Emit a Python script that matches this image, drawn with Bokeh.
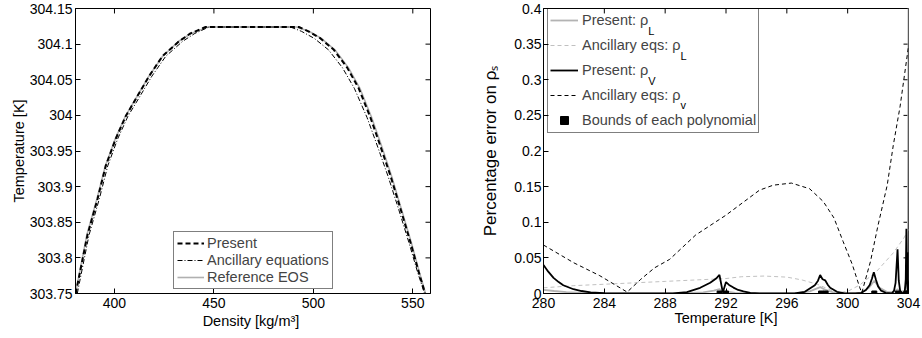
import math
from bokeh.plotting import figure
from bokeh.models import Legend, LegendItem, FixedTicker, Range1d, Label
from bokeh.layouts import row
from bokeh.embed import file_html
from bokeh.resources import INLINE

# ---------------- Left panel data (density vs temperature) ----------------
rho_present = [380.5, 386.4, 391.5, 395.6, 400.6, 405.7, 410.7, 417.4, 424.1, 432.5, 438.2, 445.8,
               492.7, 497.5, 503.6, 510.3, 517.0, 522.8, 528.7, 533.7, 538.8, 543.8, 548.8, 553.0, 556.2]
T_present = [303.75, 303.832, 303.883, 303.929, 303.967, 303.999, 304.023, 304.055, 304.083, 304.104,
             304.115, 304.124, 304.124, 304.118, 304.108, 304.092, 304.067, 304.038, 303.997, 303.957,
             303.915, 303.869, 303.822, 303.78, 303.75]
rho_ancillary = [381.3, 387.2, 392.4, 396.6, 401.6, 406.8, 412.0, 418.8, 425.8, 434.3, 440.4, 447.5,
                 488.5, 494.0, 500.5, 507.6, 514.6, 520.6, 527.0, 532.2, 537.5, 542.8, 548.0, 552.4, 555.9]
T_ancillary = [303.75, 303.832, 303.883, 303.929, 303.967, 303.999, 304.023, 304.055, 304.083, 304.104,
               304.115, 304.124, 304.124, 304.118, 304.108, 304.092, 304.067, 304.038, 303.997, 303.957,
               303.915, 303.869, 303.822, 303.78, 303.75]
rho_reference = [380.4, 386.1, 391.2, 395.4, 400.4, 405.5, 410.6, 417.3, 424.2, 432.3, 438.6, 447.0,
                 491.5, 497.8, 504.0, 510.8, 517.6, 523.4, 529.3, 534.3, 539.3, 544.2, 549.2, 553.3, 556.4]
T_reference = [303.75, 303.832, 303.883, 303.929, 303.967, 303.999, 304.023, 304.055, 304.083, 304.104,
               304.115, 304.124, 304.124, 304.118, 304.108, 304.092, 304.067, 304.038, 303.997, 303.957,
               303.915, 303.869, 303.822, 303.78, 303.75]
left_xticks = [400, 450, 500, 550]
left_yticks = [303.75, 303.8, 303.85, 303.9, 303.95, 304.0, 304.05, 304.1, 304.15]
left_ytick_labels = ["303.75", "303.8", "303.85", "303.9", "303.95", "304", "304.05", "304.1", "304.15"]

# ---------------- Right panel data (percentage error vs temperature) ----------------
presL_T = [280, 280.7, 281.5, 282.5, 283.5, 285, 289, 290.5, 291.2, 291.58, 291.8, 292.0, 292.6, 293.5,
           296.5, 297.5, 298.2, 298.55, 299.0, 299.8, 300.9, 301.4, 301.75, 302.1, 302.6, 303.0, 303.28,
           303.5, 303.75, 303.86, 303.95, 304.0]
presL_err = [0.005, 0.0035, 0.002, 0.001, 0.0003, 0, 0, 0.0015, 0.004, 0.006, 0.001, 0.003, 0.001, 0,
             0, 0.003, 0.009, 0.005, 0.002, 0, 0.001, 0.008, 0.018, 0.008, 0.002, 0.002, 0.006,
             0.002, 0.004, 0.012, 0.02, 0.42]
ancL_T = [280, 282, 284, 286, 288, 290, 292, 293, 294.5, 296, 297, 298, 299.3, 300, 300.8, 301.9, 303,
          303.7, 304]
ancL_err = [0.008, 0.011, 0.013, 0.015, 0.017, 0.019, 0.021, 0.0235, 0.0245, 0.023, 0.019, 0.013, 0.001,
            0.003, 0.012, 0.031, 0.057, 0.078, 0.09]
presV_T = [280, 280.3, 280.66, 281.0, 281.3, 281.97, 282.5, 283.1, 284.0, 285.0, 288.5, 289.43, 290.3,
           290.96, 291.35, 291.57, 291.79, 292.0, 292.2, 292.49, 292.8, 293.15, 293.6, 294.2, 296.5,
           297.18, 297.84, 298.05, 298.19, 298.35, 298.52, 298.7, 298.85, 299.3, 299.8, 300.5, 300.9,
           301.2, 301.45, 301.6, 301.72, 301.85, 302.0, 302.2, 302.5, 302.9, 303.05, 303.15, 303.28,
           303.36, 303.45, 303.6, 303.75, 303.82, 303.86, 303.9, 303.95, 303.98, 304.0]
presV_err = [0.040, 0.031, 0.022, 0.016, 0.0116, 0.006, 0.0035, 0.0015, 0.0004, 0, 0, 0.002, 0.008,
             0.015, 0.021, 0.026, 0.0015, 0.016, 0.012, 0.0083, 0.005, 0.003, 0.001, 0, 0,
             0.0024, 0.0116, 0.018, 0.026, 0.02, 0.0185, 0.012, 0.008, 0.0024, 0.0003, 0, 0.001,
             0.005, 0.012, 0.021, 0.03, 0.02, 0.01, 0.004, 0.001, 0, 0.004, 0.015, 0.062,
             0.018, 0.004, 0, 0.002, 0.02, 0.091, 0.02, 0.002, 0.02, 0.058]
ancV_T = [280, 282.0, 283.7, 285.5, 286.4, 287.3, 288.3, 290.0, 292.0, 294.2, 295.1, 296.3, 297.5, 298.4,
          299.1, 299.7, 300.3, 300.8, 300.93, 301.5, 302.0, 302.6, 303.0, 303.45, 304.0]
ancV_err = [0.068, 0.043, 0.025, 0.002, 0.020, 0.036, 0.048, 0.082, 0.110, 0.145, 0.152, 0.155, 0.147,
            0.129, 0.106, 0.073, 0.041, 0.008, 0.001, 0.045, 0.096, 0.152, 0.208, 0.263, 0.347]
bounds_T = [291.58, 292.0, 298.25, 298.55, 301.75, 303.3, 303.86, 304.0]
bounds_err = [0, 0, 0, 0, 0, 0, 0, 0]
right_xticks = [280, 284, 288, 292, 296, 300, 304]
right_yticks = [0, 0.05, 0.1, 0.15, 0.2, 0.25, 0.3, 0.35, 0.4]
right_ytick_labels = ["0", "0.05", "0.1", "0.15", "0.2", "0.25", "0.3", "0.35", "0.4"]

FONT = "Liberation Sans"
TICK_FS = "14px"
H = 338
TICK_LEN = 5

# approximate Arial/Liberation Sans advance widths (per 1000 em) for placing subscripts
CW = {' ': 278, ':': 278, 'A': 667, 'B': 667, 'P': 667, 'S': 667, 'a': 556, 'c': 500, 'd': 556,
      'e': 556, 'f': 278, 'g': 556, 'h': 556, 'i': 222, 'l': 222, 'm': 833, 'n': 556, 'o': 556,
      'p': 556, 'q': 556, 'r': 333, 's': 500, 't': 278, 'u': 556, 'y': 500, 'ρ': 575}


def tw(s, size):
    return sum(CW.get(c, 556) for c in s) * size / 1000.0


class Panel:
    def __init__(self, width, bl, br, bt, bb, xr, yr):
        self.xr, self.yr = xr, yr
        self.fw = width - bl - br
        self.fh = H - bt - bb
        p = figure(width=width, height=H, x_range=Range1d(*xr), y_range=Range1d(*yr),
                   output_backend="svg", toolbar_location=None,
                   min_border_left=bl, min_border_right=br, min_border_top=bt, min_border_bottom=bb)
        p.grid.visible = False
        p.outline_line_color = "black"
        p.outline_line_width = 1
        p.background_fill_color = "white"
        p.border_fill_color = "white"
        self.p = p

    # frame pixel offsets (from bottom-left of the frame) -> data coordinates
    def dx(self, px):
        return self.xr[0] + px / self.fw * (self.xr[1] - self.xr[0])

    def dy(self, py):
        return self.yr[0] + py / self.fh * (self.yr[1] - self.yr[0])

    def style(self, xt, yt, ylabels, xlabel, ylabel, x_std, xl_std, y_std, yl_std, yl_fs="14.5px"):
        p = self.p
        xa, ya = p.xaxis[0], p.yaxis[0]
        xa.ticker = FixedTicker(ticks=xt)
        ya.ticker = FixedTicker(ticks=yt)
        ya.major_label_overrides = {v: s for v, s in zip(yt, ylabels)}
        for ax in (xa, ya):
            ax.major_tick_in = TICK_LEN
            ax.major_tick_out = 0
            ax.minor_tick_line_color = None
            ax.axis_line_color = "black"
            ax.major_tick_line_color = "black"
            ax.major_label_text_font = FONT
            ax.major_label_text_font_size = TICK_FS
            ax.major_label_text_color = "black"
            ax.axis_label_text_font = FONT
            ax.axis_label_text_font_style = "normal"
            ax.axis_label_text_font_size = "14.5px"
            ax.axis_label_text_color = "black"
        ya.axis_label_text_font_size = yl_fs
        xa.major_label_standoff = x_std
        xa.axis_label_standoff = xl_std
        ya.major_label_standoff = y_std
        ya.axis_label_standoff = yl_std
        xa.axis_label = xlabel
        ya.axis_label = ylabel
        # mirrored inward ticks on the top and right sides of the box
        ytop = self.yr[1]
        ylen = self.dy(TICK_LEN) - self.yr[0]
        p.segment(x0=xt, y0=[ytop] * len(xt), x1=xt, y1=[ytop - ylen] * len(xt),
                  line_color="black", line_width=1)
        xright = self.xr[1]
        xlen = self.dx(TICK_LEN) - self.xr[0]
        p.segment(x0=[xright] * len(yt), y0=yt, x1=[xright - xlen] * len(yt), y1=yt,
                  line_color="black", line_width=1)


# ---------------- Left figure ----------------
L = Panel(460, 75, 30, 7, 45, (380.4, 558.9), (303.75, 304.15))
L.style(left_xticks, left_yticks, left_ytick_labels, "Density  [kg/m³]", "Temperature [K]", 4, 2, 3, 0)
p1 = L.p

r_ref = p1.line(rho_reference, T_reference, line_color="#b0b0b0", line_width=1.6)
r_anc = p1.line(rho_ancillary, T_ancillary, line_color="black", line_width=1, line_dash="5 2 1 2")
r_pre = p1.line(rho_present, T_present, line_color="black", line_width=2, line_dash="5 3")

leg1 = Legend(items=[LegendItem(label="Present", renderers=[r_pre]),
                     LegendItem(label="Ancillary equations", renderers=[r_anc]),
                     LegendItem(label="Reference EOS", renderers=[r_ref])],
              location=(98, 4), padding=3, margin=0, spacing=1, glyph_width=27, glyph_height=16,
              label_height=16, label_standoff=3, label_text_font=FONT, label_text_font_size="14.5px",
              border_line_color="black", border_line_width=1.2, background_fill_color="white",
              background_fill_alpha=1)
p1.add_layout(leg1)

# ---------------- Right figure ----------------
YL_FS = 17
ylabel_right = "Percentage error on ρₛ"
R = Panel(461, 83, 13, 8, 42, (280, 304), (0, 0.4))
R.style(right_xticks, right_yticks, right_ytick_labels, "Temperature [K]", ylabel_right, 4, -1, 2, 11,
        yl_fs=f"{YL_FS}px")
p2 = R.p

r_pL = p2.line(presL_T, presL_err, line_color="#b3b3b3", line_width=1.8)
r_aL = p2.line(ancL_T, ancL_err, line_color="#c0c0c0", line_width=1, line_dash="4 3")
r_aV = p2.line(ancV_T, ancV_err, line_color="black", line_width=1, line_dash="4 3")
r_pV = p2.line(presV_T, presV_err, line_color="black", line_width=1.8)
r_b = p2.scatter(bounds_T, bounds_err, marker="square", size=5, color="black")

LEG_X, PAD, GW, STANDOFF, ROWH, SP = 4, 2, 28, 4, 20, 5
LEG_FS = 14.5
leg_h = 2 * PAD + 5 * ROWH + 4 * SP
leg_top = R.fh - 4
mains = ["Present: ρ", "Ancillary eqs: ρ", "Present: ρ", "Ancillary eqs: ρ", "Bounds of each polynomial"]
subs = ["L", "L", "V", "v", None]
rends = [r_pL, r_aL, r_pV, r_aV, r_b]
leg2 = Legend(items=[LegendItem(label=m, renderers=[r]) for m, r in zip(mains, rends)],
              location=(LEG_X, leg_top - leg_h), padding=PAD, margin=0, spacing=SP,
              glyph_width=GW, glyph_height=ROWH, label_height=ROWH, label_standoff=STANDOFF,
              label_text_font=FONT, label_text_font_size=f"{LEG_FS}px",
              border_line_color="black", border_line_width=1.5, background_fill_color="white",
              background_fill_alpha=0)
p2.add_layout(leg2)

for i, (m, s) in enumerate(zip(mains, subs)):
    if s is None:
        continue
    cy = leg_top - PAD - i * (ROWH + SP) - ROWH / 2
    sx = LEG_X + PAD + GW + STANDOFF + tw(m, LEG_FS) + 0.5
    p2.add_layout(Label(x=R.dx(sx), y=R.dy(cy - 7), text=s,
                        text_font=FONT, text_font_size="11px", text_baseline="middle",
                        text_align="left", text_color="black"))

layout = row(p1, p2)
open("out.html", "w").write(file_html(layout, INLINE))
